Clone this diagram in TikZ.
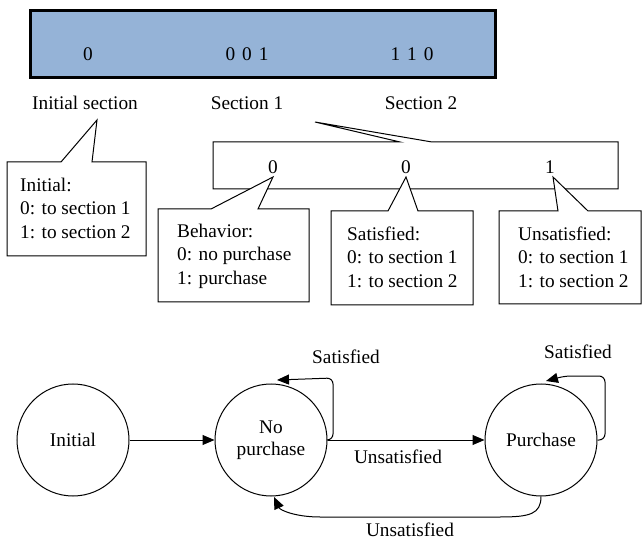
\documentclass[tikz,border=0pt]{standalone}
\usepackage{fontspec}
\setmainfont{Liberation Serif}
\usetikzlibrary{arrows.meta}
\definecolor{barblue}{RGB}{149,179,215}
\begin{document}
\begin{tikzpicture}[x=1pt,y=-1pt,
  every node/.style={font=\fontsize{19.3}{23.5}\selectfont, inner sep=0pt},
  txt/.style={align=left, anchor=west},
  callout/.style={draw=black, line width=1pt, fill=white, line join=miter},
  state/.style={draw=black, line width=1pt, circle, minimum size=112pt, align=center},
  arr/.style={line width=1pt, -{Triangle[length=12pt,width=10pt]}}
]
\useasboundingbox (0,0) rectangle (643,540);
% top bar
\draw[line width=3pt, fill=barblue] (30,11) rectangle (495,78);
\node (b0) at (88,54) {0};
\node (b1) at (247,54) {0\hspace{7pt}0\hspace{7pt}1};
\node (b2) at (412,54) {1\hspace{7pt}1\hspace{7pt}0};
\node (l0) at (85,103) {Initial section};
\node (l1) at (247,103) {Section 1};
\node (l2) at (421,103) {Section 2};
% initial callout
\draw[callout] (7,162) -- (61,162) -- (97,120) -- (92,162) -- (146,162) -- (146,256) -- (7,256) -- cycle;
\node[txt] (ci) at (20,208) {Initial:\\0: to section 1\\1: to section 2};
% section 1 box
\draw[callout] (213,142) -- (400,142) -- (315,122) -- (432,142) -- (618,142) -- (618,189) -- (213,189) -- cycle;
\node (d0) at (273,167) {0};
\node (d1) at (406,167) {0};
\node (d2) at (550,167) {1};
% behavior callout
\draw[callout] (158,209) -- (211,209) -- (273,177) -- (258,209) -- (309,209) -- (309,302) -- (158,302) -- cycle;
\node[txt] (cb) at (177,256) {Behavior:\\0: no purchase\\1: purchase};
% satisfied callout
\draw[callout] (331,211) -- (388,211) -- (406,177) -- (418,211) -- (473,211) -- (473,305) -- (331,305) -- cycle;
\node[txt] (cs) at (347,257) {Satisfied:\\0: to section 1\\1: to section 2};
% unsatisfied callout
\draw[callout] (499,211) -- (558,211) -- (553,177) -- (588,211) -- (641,211) -- (641,304) -- (499,304) -- cycle;
\node[txt] (cu) at (518,257) {Unsatisfied:\\0: to section 1\\1: to section 2};
% state diagram
\node[state] (init) at (73,440) {Initial};
\node[state] (np) at (271,440) {No\\[-1pt]purchase};
\node[state] (pur) at (541,440) {Purchase};
\draw[arr] (init) -- (np);
\draw[arr] (np) -- (pur);
\node (u1) at (398,457) {Unsatisfied};
\coordinate (npt) at (277,380);
\draw[arr, rounded corners=6pt] (np.east) -- (333,440) -- (333,378) -- (npt);
\node (s1) at (346,357) {Satisfied};
\coordinate (pt) at (546,381);
\draw[arr, rounded corners=6pt] (pur.east) -- (605,440) -- (605,376) -- (565,376) -- (pt);
\node (s2) at (578,352) {Satisfied};
\coordinate (npb) at (274,497);
\draw[arr] (pur.south) .. controls (541,514) and (530,517) .. (500,517) -- (320,517) .. controls (295,517) and (280,510) .. (npb);
\node (u2) at (410,530) {Unsatisfied};
\end{tikzpicture}
\end{document}
